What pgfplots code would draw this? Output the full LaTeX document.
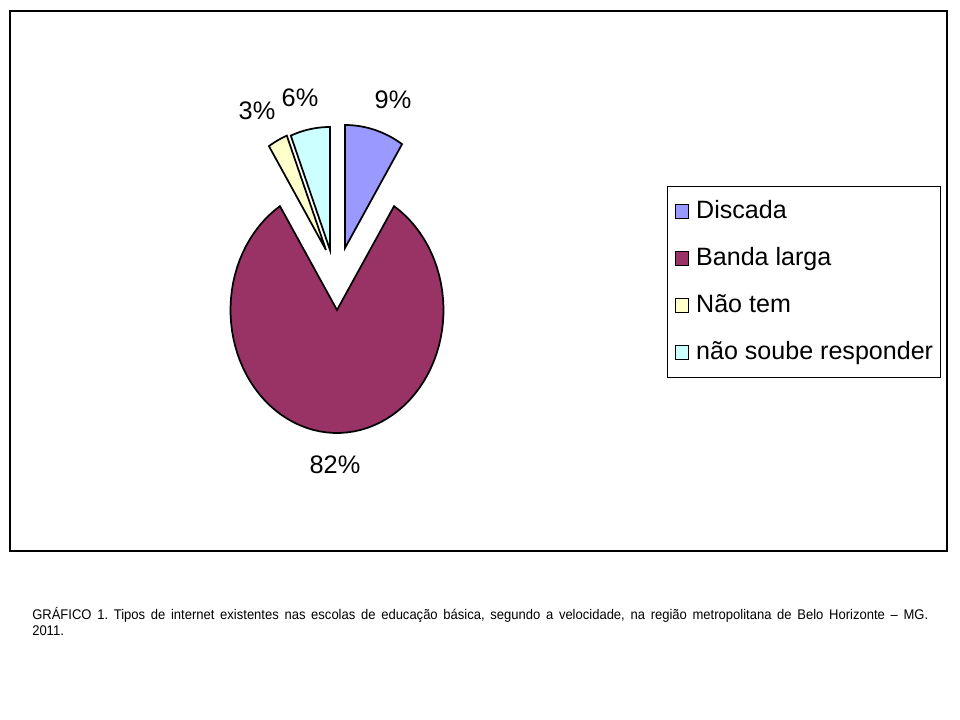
\documentclass[border=0pt]{standalone}
\usepackage{fontspec}
\setmainfont{Liberation Sans}
\newfontfamily\capfont[FakeStretch=0.93]{Liberation Sans}
\usepackage{pgfplots}
\pgfplotsset{compat=1.18}
\frenchspacing

\definecolor{discada}{HTML}{9999FF}
\definecolor{banda}{HTML}{993366}
\definecolor{naotem}{HTML}{FFFFCC}
\definecolor{naosoube}{HTML}{CCFFFF}

% shares in percent
\def\vA{9}  % Discada
\def\vB{82} % Banda larga
\def\vC{3}  % Nao tem
\def\vD{6}  % nao soube responder
% pie radii in pixels
\def\rx{106.5}
\def\ry{123}

\begin{document}
\begin{tikzpicture}
\begin{axis}[
  hide axis, scale only axis, clip=false,
  width=720pt, height=540pt,
  xmin=0, xmax=960, ymin=0, ymax=720, y dir=reverse,
  samples=80,
  legend cell align=left,
  legend image code/.code={\draw[#1, line width=0.75pt] (0pt,-5pt) rectangle (9.75pt,5.5pt); \path (15pt,0pt);},
  legend style={at={(axis cs:667,186)}, anchor=north west,
    draw=black, line width=0.75pt, inner xsep=5.5pt, inner ysep=9.75pt,
    row sep=17.25pt, column sep=0pt,
    font=\fontsize{18.8}{21}\selectfont,
    nodes={inner sep=0pt, text height=14pt, text depth=4pt}},
]
% Discada
\addplot[draw=black, line width=1.3pt, fill=discada, domain={90-3.6*\vA}:90]
  ({345+\rx*cos(x)}, {248-\ry*sin(x)}) -- (axis cs:345,248) -- cycle;
\addlegendentry{Discada}
% Banda larga
\addplot[draw=black, line width=1.3pt, fill=banda, domain={90-3.6*(\vA+\vB)}:{90-3.6*\vA}]
  ({337+\rx*cos(x)}, {310-\ry*sin(x)}) -- (axis cs:337,310) -- cycle;
\addlegendentry{Banda larga}
% Nao tem
\addplot[draw=black, line width=1.3pt, fill=naotem, domain={90-3.6*(\vA+\vB+\vC)}:{90-3.6*(\vA+\vB)}]
  ({326+\rx*cos(x)}, {250-\ry*sin(x)}) -- (axis cs:326,250) -- cycle;
\addlegendentry{Não tem}
% nao soube responder
\addplot[draw=black, line width=1.3pt, fill=naosoube, domain={90-3.6*(\vA+\vB+\vC+\vD)}:{90-3.6*(\vA+\vB+\vC)}]
  ({330+\rx*cos(x)}, {250-\ry*sin(x)}) -- (axis cs:330,250) -- cycle;
\addlegendentry{não soube responder}

% data labels
\begin{scope}[font=\fontsize{19}{21}\selectfont]
\node at (axis cs:393,100) {\vA\%};
\node at (axis cs:335,465) {\vB\%};
\node at (axis cs:257,111) {\vC\%};
\node at (axis cs:300,98) {\vD\%};
\end{scope}

% chart frame
\draw[line width=1.5pt] (axis cs:10,11) rectangle (axis cs:947,551);

% caption
\node[anchor=north west, inner sep=0pt, text width=672pt, align=justify,
  font=\capfont\fontsize{10.5}{12}\selectfont] at (axis cs:32,607)
  {GRÁFICO 1. Tipos de internet existentes nas escolas de educação básica, segundo a velocidade, na região metropolitana de Belo Horizonte – MG.\linebreak 2011.};
\end{axis}
\pgfresetboundingbox
\useasboundingbox (current axis.south west) rectangle (current axis.north east);
\end{tikzpicture}
\end{document}
